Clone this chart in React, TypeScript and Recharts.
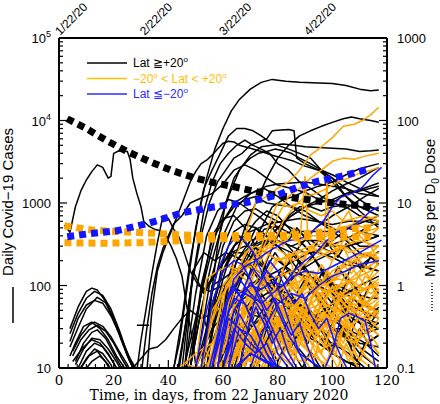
import { LineChart, Line, XAxis, YAxis, Legend } from 'recharts';

// x = days from 22 Jan 2020, y = daily cases; flat pairs [day, cases, day, cases, ...]
const chinaCases = [2, 540, 4, 440, 6, 900, 8, 1400, 10, 1900, 12, 2400, 14, 2900, 16, 2700, 18, 2000, 19, 2100, 20, 4000, 22, 4300, 25, 4200, 26, 3400, 27, 2000, 28.5, 1300, 30, 900, 31, 600, 33, 520, 35, 480, 37, 460, 39, 400, 41, 300, 43, 210, 45, 130, 47, 50, 49, 20, 50, 11, 51, 7];
const koreaCases = [28, 7, 30, 22, 32, 55, 34, 140, 36, 330, 38, 700, 40, 650, 42, 480, 44, 380, 46, 240, 48, 150, 51, 100, 55, 85, 60, 100, 65, 90, 70, 75, 75, 45, 80, 32, 85, 22, 90, 14, 95, 10, 100, 8];
const iranCases = [30, 8, 32, 28, 34, 80, 36, 170, 38, 280, 40, 400, 42, 560, 45, 700, 48, 1000, 52, 1150, 56, 1300, 60, 1700, 64, 2500, 68, 2900, 72, 2500, 76, 2000, 80, 1650, 85, 1500, 90, 1350, 95, 1100, 100, 1000, 105, 1300, 110, 1450, 117, 1750];
const japanCases = [27, 10, 30, 13, 33, 17, 36, 18, 39, 22, 42, 30, 45, 40, 48, 50, 52, 40, 56, 45, 60, 60, 65, 120, 70, 250, 75, 480, 80, 520, 85, 420, 90, 300, 95, 180, 100, 100, 105, 60, 110, 40, 117, 35];
const italyCases = [32, 8, 34, 50, 36, 150, 38, 250, 41, 450, 44, 800, 46, 1200, 48, 1800, 50, 2400, 52, 3000, 54, 3300, 56, 3800, 58, 4500, 60, 5300, 62, 5600, 64, 5500, 66, 5000, 70, 4600, 74, 4200, 78, 3800, 82, 3500, 86, 3200, 90, 2800, 95, 2500, 100, 2000, 105, 1500, 110, 1100, 114, 900, 117, 800];
const usaCases = [42, 10, 45, 40, 48, 200, 51, 700, 54, 2000, 57, 4500, 60, 8000, 63, 13000, 66, 18000, 70, 24000, 74, 29000, 78, 31500, 83, 30000, 88, 29000, 95, 28500, 100, 28000, 105, 26500, 110, 24000, 114, 23000, 117, 23500];
const spainCases = [40, 5, 44, 20, 47, 100, 50, 500, 53, 1500, 56, 2500, 59, 4000, 62, 6500, 65, 8000, 68, 8000, 71, 7500, 74, 6500, 77, 5500, 80, 5000, 84, 4500, 88, 4000, 92, 3500, 96, 2500, 100, 2000, 105, 1200, 110, 800, 117, 500];
const germanyCases = [42, 5, 46, 30, 50, 200, 53, 800, 56, 1800, 59, 3000, 62, 4000, 65, 5000, 68, 5800, 71, 5000, 74, 4500, 77, 4000, 80, 3000, 84, 2500, 88, 1800, 92, 1500, 96, 1200, 100, 1000, 105, 900, 110, 700, 117, 600];
const franceCases = [44, 10, 48, 80, 52, 400, 55, 1000, 58, 1800, 61, 2500, 64, 3500, 67, 4000, 70, 5000, 73, 5500, 76, 6000, 78, 7500, 80, 7600, 84, 7800, 86, 7500, 87, 3500, 90, 3000, 95, 2500, 100, 1800, 105, 1200, 110, 900, 117, 700];
const ukCases = [45, 8, 50, 40, 54, 150, 58, 500, 62, 1200, 66, 2500, 70, 3800, 74, 4800, 78, 5000, 82, 5200, 86, 5000, 90, 4800, 95, 4700, 100, 4600, 105, 4500, 110, 4200, 114, 4300, 117, 4400];
const russiaCases = [50, 5, 55, 20, 60, 80, 64, 200, 68, 500, 72, 1000, 76, 2000, 80, 3500, 84, 5000, 88, 6500, 92, 7500, 96, 8500, 100, 9500, 104, 10500, 107, 11000, 110, 10500, 114, 10000, 117, 9500];
const turkeyCases = [52, 5, 55, 50, 58, 300, 61, 1000, 64, 2000, 67, 2800, 70, 3500, 73, 4000, 76, 4200, 79, 4500, 82, 4300, 85, 4000, 88, 3500, 92, 3000, 96, 2500, 100, 2200, 105, 1800, 110, 1500, 117, 1200];
const canadaCases = [48, 10, 52, 50, 56, 200, 60, 600, 64, 1000, 68, 1200, 72, 1400, 76, 1600, 80, 1700, 85, 1750, 90, 1800, 95, 1700, 100, 1600, 105, 1500, 110, 1300, 117, 1200];
const cruiseCases = [28.5, 33, 33, 33];

// the small early humps, Lat >= +20
const earlyArcs = [
  [4, 30, 7, 55, 10, 85, 12, 93, 14, 88, 17, 65, 20, 40, 23, 22, 26, 13, 28, 10],
  [4, 26, 7, 46, 10, 70, 13, 85, 16, 76, 19, 52, 22, 29, 25, 15, 27.5, 10],
  [4, 21, 7, 40, 10, 58, 13, 66, 16, 61, 19, 43, 22, 26, 25, 14, 27, 10],
  [4, 18, 7, 31, 10, 52, 14, 72, 17, 62, 20, 39, 23, 21, 26, 12, 28, 9],
  [5, 16, 8, 25, 11, 33, 13, 36, 16, 32, 19, 24, 22, 16, 25, 11, 27, 8],
  [5, 14, 8, 22, 11, 29, 14, 33, 17, 28, 20, 20, 23, 13, 25, 10],
  [6, 12, 9, 20, 12, 27, 14, 29, 17, 23, 20, 15, 23, 10],
  [6, 11, 9, 17, 12, 23, 15, 22, 18, 17, 21, 12, 23, 9],
  [7, 10, 10, 16, 13, 20, 16, 18, 19, 13, 21, 10],
  [7, 9, 10, 13, 13, 17, 16, 15, 19, 11, 20, 9],
  [8, 10, 11, 14, 14, 16, 17, 12, 19, 9],
  [9, 9, 12, 12, 15, 14, 18, 11, 20, 8],
  [5, 12, 9, 18, 12, 22, 15, 20, 18, 15, 21, 10, 22, 9],
  [4, 14, 6, 20, 9, 32, 12, 36, 15, 30, 18, 22, 21, 14, 24, 10],
];

// other countries, Lat >= +20
const northOthers = [
  [50, 10, 55, 100, 60, 400, 65, 900, 70, 1300, 75, 1500, 80, 1200, 85, 900, 90, 700, 95, 600, 100, 500, 105, 400, 110, 300, 117, 300],
  [48, 10, 52, 100, 56, 350, 60, 600, 64, 900, 68, 1100, 72, 1200, 76, 1000, 80, 950, 85, 900, 90, 800, 95, 600, 100, 450, 105, 350, 110, 250, 117, 200],
  [46, 10, 50, 80, 54, 400, 58, 800, 62, 1100, 66, 1000, 70, 800, 74, 650, 78, 500, 82, 350, 86, 250, 90, 150, 95, 100, 100, 60, 105, 45, 110, 35, 117, 30],
  [52, 10, 56, 80, 60, 300, 64, 600, 68, 800, 72, 850, 76, 700, 80, 600, 85, 500, 90, 400, 95, 300, 100, 250, 105, 200, 110, 180, 117, 150],
  [47, 10, 52, 80, 58, 150, 64, 300, 70, 450, 76, 550, 82, 600, 88, 650, 94, 600, 100, 550, 106, 600, 112, 600, 117, 550],
  [52, 10, 56, 50, 60, 150, 64, 300, 68, 400, 72, 600, 76, 800, 80, 700, 84, 500, 88, 350, 92, 250, 96, 150, 100, 90, 105, 60, 110, 50, 117, 40],
  [48, 10, 52, 80, 56, 400, 60, 650, 64, 700, 68, 500, 72, 300, 76, 150, 80, 80, 85, 60, 90, 50, 95, 40, 100, 30, 105, 25, 110, 20, 117, 18],
  [50, 10, 55, 30, 60, 200, 64, 450, 68, 550, 72, 500, 76, 400, 80, 300, 85, 200, 90, 120, 95, 80, 100, 50, 105, 25, 110, 15, 117, 10],
  [52, 10, 56, 100, 60, 120, 64, 150, 68, 180, 72, 250, 76, 350, 80, 500, 85, 700, 90, 900, 95, 1100, 100, 1400, 105, 1700, 110, 2000, 117, 2700],
  [54, 10, 58, 60, 62, 120, 66, 150, 70, 300, 74, 500, 78, 900, 82, 1100, 86, 1200, 90, 1400, 95, 1600, 100, 1800, 105, 2200, 110, 2600, 117, 3000],
  [60, 5, 66, 20, 72, 80, 76, 200, 80, 400, 84, 700, 88, 900, 92, 900, 96, 800, 100, 900, 105, 950, 110, 900, 117, 850],
  [60, 10, 65, 50, 70, 150, 75, 300, 80, 400, 85, 450, 90, 450, 95, 450, 100, 450, 105, 500, 110, 450, 117, 400],
  [55, 10, 60, 60, 65, 200, 70, 350, 75, 400, 80, 350, 85, 300, 90, 350, 95, 350, 100, 300, 105, 300, 110, 330, 117, 400],
  [56, 10, 60, 50, 65, 200, 70, 300, 75, 350, 80, 350, 85, 300, 90, 250, 95, 250, 100, 220, 105, 180, 110, 170, 117, 150],
  [46, 10, 49, 150, 53, 80, 58, 150, 63, 250, 68, 300, 72, 280, 76, 250, 80, 200, 85, 150, 90, 130, 95, 120, 100, 100, 105, 80, 110, 60, 117, 50],
  [45, 10, 49, 150, 53, 250, 57, 200, 61, 250, 65, 220, 69, 180, 73, 120, 77, 80, 82, 60, 88, 40, 94, 25, 100, 20, 106, 15, 112, 10, 117, 8],
  [52, 10, 56, 60, 60, 150, 64, 250, 68, 250, 72, 200, 76, 150, 80, 100, 85, 70, 90, 50, 95, 40, 100, 30, 105, 30, 110, 25, 117, 30],
  [48, 10, 52, 50, 56, 20, 60, 50, 65, 100, 70, 200, 75, 300, 80, 500, 85, 700, 90, 900, 95, 1000, 100, 1100, 105, 1300, 110, 1400, 117, 1600],
  [50, 10, 56, 30, 62, 50, 68, 80, 74, 120, 80, 150, 86, 200, 92, 250, 98, 300, 104, 350, 110, 450, 117, 600],
  [56, 10, 62, 50, 68, 150, 72, 300, 76, 350, 80, 300, 85, 250, 90, 150, 95, 100, 100, 80, 105, 50, 110, 40, 117, 30],
  [58, 10, 64, 30, 70, 60, 76, 80, 82, 100, 88, 150, 94, 200, 100, 250, 106, 300, 112, 350, 117, 400],
  [58, 8, 64, 15, 70, 30, 76, 60, 82, 90, 88, 150, 94, 250, 100, 350, 106, 500, 112, 600, 117, 700],
  [60, 10, 66, 40, 72, 80, 78, 120, 84, 150, 90, 130, 96, 110, 102, 100, 108, 80, 114, 70, 117, 70],
  [70, 8, 76, 30, 82, 150, 88, 300, 94, 500, 100, 700, 106, 900, 112, 1200, 117, 1500],
  [50, 10, 55, 40, 60, 100, 65, 150, 70, 180, 75, 130, 80, 90, 85, 60, 90, 40, 95, 25, 100, 15, 105, 12, 110, 10, 117, 8],
  [55, 10, 60, 30, 65, 60, 70, 80, 75, 60, 80, 40, 85, 30, 90, 25, 95, 20, 100, 15, 105, 12, 110, 10],
  [60, 10, 65, 20, 70, 45, 75, 40, 80, 30, 85, 35, 90, 30, 95, 20, 100, 15, 105, 12, 110, 11],
  [62, 10, 67, 25, 72, 35, 77, 50, 82, 45, 87, 40, 92, 30, 97, 40, 102, 35, 107, 25, 112, 20, 117, 25],
  [65, 10, 70, 20, 75, 30, 80, 25, 85, 20, 90, 30, 95, 45, 100, 60, 105, 80, 110, 100, 117, 130],
  [58, 10, 63, 40, 68, 90, 73, 120, 78, 100, 83, 80, 88, 60, 93, 45, 98, 35, 103, 25, 108, 20, 113, 15, 117, 12],
  [56, 10, 59, 25, 62, 45, 65, 30, 68, 60, 71, 45, 74, 80, 77, 55, 80, 40, 83, 65, 86, 45, 89, 30, 92, 50, 95, 35, 98, 25, 101, 40, 104, 28, 107, 18, 110, 30, 113, 20, 117, 25],
  [60, 10, 63, 18, 66, 35, 69, 25, 72, 50, 75, 35, 78, 70, 81, 50, 84, 90, 87, 60, 90, 110, 93, 80, 96, 140, 99, 100, 102, 170, 105, 120, 108, 200, 111, 150, 114, 220, 117, 180],
  [64, 10, 67, 20, 70, 14, 73, 28, 76, 20, 79, 35, 82, 25, 85, 45, 88, 30, 91, 20, 94, 35, 97, 25, 100, 15, 103, 28, 106, 20, 109, 12, 112, 20, 117, 14],
  [58, 10, 61, 40, 64, 90, 67, 150, 70, 120, 73, 200, 76, 160, 79, 250, 82, 180, 85, 130, 88, 200, 91, 150, 94, 100, 97, 160, 100, 110, 103, 80, 106, 120, 109, 90, 112, 60, 117, 80],
  [68, 10, 71, 25, 74, 40, 77, 30, 80, 55, 83, 40, 86, 70, 89, 50, 92, 90, 95, 65, 98, 45, 101, 75, 104, 55, 107, 35, 110, 60, 113, 40, 117, 55],
  [62, 10, 65, 14, 68, 20, 71, 16, 74, 25, 77, 18, 80, 12, 83, 20, 86, 15, 89, 10, 92, 16, 95, 11, 98, 8],
  [54, 10, 57, 50, 60, 120, 63, 250, 66, 400, 69, 300, 72, 500, 75, 380, 78, 600, 81, 450, 84, 350, 87, 500, 90, 380, 93, 280, 96, 400, 99, 300, 102, 220, 105, 320, 108, 240, 111, 180, 117, 260],
  [72, 10, 75, 18, 78, 30, 81, 22, 84, 40, 87, 28, 90, 50, 93, 35, 96, 60, 99, 42, 102, 75, 105, 50, 108, 90, 111, 65, 114, 110, 117, 80],
  [66, 10, 69, 40, 72, 80, 75, 120, 78, 90, 81, 150, 84, 110, 87, 80, 90, 120, 93, 90, 96, 60, 99, 90, 102, 65, 105, 45, 108, 70, 111, 50, 114, 35, 117, 50],
  [76, 10, 79, 15, 82, 25, 85, 18, 88, 30, 91, 20, 94, 40, 97, 28, 100, 18, 103, 30, 106, 22, 109, 40, 112, 28, 117, 35],
];

// -20 < Lat < +20
const tropicsCases = [
  [56, 10, 60, 30, 64, 200, 68, 400, 72, 1000, 76, 1200, 80, 1500, 84, 1800, 88, 2500, 92, 3800, 96, 4800, 100, 6200, 104, 8500, 108, 9000, 111, 10000, 114, 11700, 117, 14500],
  [60, 10, 65, 30, 70, 100, 75, 300, 80, 700, 84, 1200, 88, 1500, 92, 2000, 96, 2500, 100, 3200, 104, 3500, 108, 3400, 112, 3700, 117, 4000],
  [62, 10, 66, 40, 70, 80, 74, 150, 78, 300, 82, 600, 86, 900, 90, 1200, 94, 1300, 98, 1500, 102, 1800, 106, 2000, 110, 2300, 114, 2500, 117, 2700],
  [55, 10, 60, 80, 65, 150, 70, 300, 74, 200, 78, 400, 82, 300, 86, 500, 88, 300, 90, 2100, 91, 400, 94, 500, 97, 300, 98, 1900, 99, 300, 102, 500, 106, 800, 110, 400, 114, 300, 117, 200],
  [56, 10, 62, 40, 68, 80, 74, 100, 80, 200, 86, 250, 92, 300, 98, 400, 104, 500, 110, 600, 117, 700],
  [40, 5, 44, 10, 50, 15, 56, 20, 62, 50, 66, 80, 70, 120, 74, 300, 78, 700, 80, 1000, 84, 900, 88, 1000, 92, 800, 96, 700, 100, 800, 104, 600, 108, 650, 112, 700, 117, 600],
  [55, 10, 60, 50, 64, 100, 68, 250, 72, 300, 76, 250, 80, 200, 84, 220, 88, 250, 92, 260, 96, 280, 100, 250, 104, 300, 108, 250, 112, 220, 117, 250],
  [52, 10, 56, 50, 60, 80, 64, 120, 68, 150, 72, 250, 76, 300, 80, 330, 84, 350, 88, 350, 92, 400, 96, 400, 100, 450, 104, 500, 108, 550, 112, 500, 117, 600],
  [50, 10, 54, 120, 58, 150, 62, 170, 66, 150, 70, 170, 74, 120, 78, 80, 82, 50, 86, 40, 90, 50, 94, 30, 98, 50, 102, 40, 106, 30, 110, 40, 117, 50],
  [52, 10, 56, 40, 60, 100, 64, 150, 68, 120, 72, 80, 76, 50, 80, 30, 84, 20, 88, 15, 92, 10, 96, 8],
  [58, 10, 62, 60, 66, 150, 70, 200, 74, 250, 78, 300, 82, 250, 86, 200, 90, 250, 94, 300, 98, 350, 102, 300, 106, 250, 110, 280, 117, 300],
  [57, 10, 61, 100, 65, 150, 69, 200, 73, 150, 77, 120, 81, 130, 85, 150, 89, 120, 93, 150, 97, 100, 101, 120, 105, 150, 109, 200, 113, 250, 117, 200],
  [60, 10, 66, 30, 72, 50, 78, 60, 84, 50, 90, 40, 96, 30, 102, 20, 108, 15, 114, 10],
  [58, 10, 64, 20, 70, 20, 76, 15, 82, 20, 88, 12, 94, 15, 100, 20, 106, 40, 112, 60, 117, 80],
  [62, 10, 68, 20, 74, 30, 80, 80, 86, 150, 92, 200, 98, 250, 104, 300, 110, 350, 117, 300],
  [62, 10, 68, 30, 74, 60, 80, 100, 84, 250, 88, 80, 92, 150, 96, 100, 100, 200, 104, 300, 108, 150, 112, 100, 117, 200],
  [60, 10, 66, 30, 72, 80, 78, 50, 84, 40, 90, 100, 96, 80, 102, 150, 108, 200, 114, 250, 117, 200],
  [56, 10, 62, 30, 68, 25, 74, 20, 80, 15, 86, 10, 92, 8],
  [62, 10, 68, 25, 74, 30, 80, 40, 86, 50, 92, 60, 98, 80, 104, 100, 110, 150, 117, 200],
  [66, 10, 72, 15, 78, 20, 84, 30, 90, 50, 96, 80, 102, 100, 108, 120, 114, 150, 117, 180],
  [70, 10, 76, 15, 82, 20, 88, 30, 94, 50, 100, 60, 106, 80, 112, 90, 117, 100],
  [58, 10, 64, 15, 70, 12, 76, 10, 82, 15, 88, 30, 94, 50, 100, 40, 106, 30, 112, 50, 117, 40],
  [66, 10, 72, 15, 78, 15, 84, 20, 90, 25, 96, 30, 102, 40, 108, 50, 114, 60, 117, 70],
  [60, 10, 66, 50, 72, 60, 78, 50, 84, 60, 90, 50, 96, 60, 102, 50, 108, 60, 114, 40, 117, 50],
  [60, 10, 66, 20, 72, 15, 78, 20, 84, 40, 90, 80, 96, 100, 102, 120, 108, 110, 114, 80, 117, 90],
  [66, 10, 72, 30, 78, 80, 84, 100, 90, 120, 96, 90, 102, 80, 108, 70, 114, 50, 117, 60],
  [66, 10, 72, 15, 78, 20, 84, 25, 90, 30, 96, 40, 102, 50, 108, 80, 114, 100, 117, 90],
  [66, 10, 72, 15, 78, 20, 84, 40, 90, 60, 96, 100, 102, 150, 108, 200, 114, 250, 117, 300],
  [70, 10, 76, 20, 82, 40, 88, 60, 94, 90, 100, 150, 106, 200, 112, 250, 117, 200],
  [60, 10, 66, 40, 72, 70, 78, 60, 84, 50, 90, 40, 96, 30, 102, 50, 108, 30, 114, 20, 117, 15],
  [45, 5, 50, 10, 56, 12, 62, 10, 68, 8],
  [74, 10, 80, 30, 86, 60, 92, 40, 98, 100, 104, 60, 110, 80, 117, 120],
  [72, 10, 78, 20, 84, 25, 90, 35, 96, 30, 102, 25, 108, 20, 114, 30, 117, 25],
  [60, 20, 64, 40, 68, 60, 72, 80, 76, 90, 80, 70, 84, 60, 88, 80, 92, 100, 96, 90, 100, 70, 104, 80, 108, 100, 112, 90, 117, 110],
  [46, 11, 52, 10, 56, 20, 60, 30, 64, 25, 68, 20, 72, 30, 76, 40, 80, 35, 84, 25, 88, 20, 92, 15, 96, 12, 100, 10],
  [76, 10, 80, 40, 84, 90, 88, 150, 92, 300, 96, 250, 100, 200, 104, 350, 108, 400, 112, 450, 117, 500],
  [50, 10, 53, 18, 56, 12, 59, 25, 62, 40, 65, 30, 68, 55, 71, 45, 74, 70, 77, 50, 80, 90, 83, 60, 86, 110, 89, 80, 92, 130, 95, 90, 98, 150, 101, 120, 104, 180, 107, 140, 110, 200, 113, 160, 117, 220],
  [54, 10, 57, 20, 60, 15, 63, 35, 66, 25, 69, 40, 72, 30, 75, 20, 78, 35, 81, 25, 84, 15, 87, 30, 90, 20, 93, 12, 96, 25, 99, 15, 102, 10, 105, 20, 108, 12, 111, 8],
  [58, 10, 61, 25, 64, 60, 67, 40, 70, 90, 73, 70, 76, 120, 79, 90, 82, 150, 85, 100, 88, 70, 91, 120, 94, 80, 97, 60, 100, 100, 103, 70, 106, 50, 109, 80, 112, 60, 117, 90],
  [62, 10, 65, 15, 68, 30, 71, 20, 74, 45, 77, 35, 80, 60, 83, 40, 86, 30, 89, 55, 92, 35, 95, 25, 98, 45, 101, 30, 104, 20, 107, 35, 110, 25, 113, 40, 117, 30],
  [64, 8, 67, 20, 70, 12, 73, 25, 76, 40, 79, 30, 82, 20, 85, 45, 88, 70, 91, 50, 94, 90, 97, 60, 100, 40, 103, 70, 106, 110, 109, 80, 112, 130, 117, 100],
  [66, 10, 69, 14, 72, 25, 75, 18, 78, 12, 81, 22, 84, 35, 87, 25, 90, 18, 93, 30, 96, 45, 99, 30, 102, 22, 105, 35, 108, 25, 111, 15, 114, 25, 117, 18],
  [68, 10, 71, 30, 74, 20, 77, 50, 80, 35, 83, 80, 86, 55, 89, 40, 92, 65, 95, 45, 98, 30, 101, 50, 104, 35, 107, 60, 110, 40, 113, 25, 117, 40],
  [57, 12, 60, 20, 63, 45, 66, 70, 69, 50, 72, 90, 75, 140, 78, 100, 81, 70, 84, 120, 87, 90, 90, 150, 93, 110, 96, 180, 99, 130, 102, 90, 105, 140, 108, 100, 111, 160, 114, 120, 117, 150],
  [72, 10, 75, 15, 78, 25, 81, 18, 84, 12, 87, 20, 90, 35, 93, 25, 96, 15, 99, 28, 102, 45, 105, 30, 108, 20, 111, 35, 114, 55, 117, 40],
  [61, 10, 64, 35, 67, 20, 70, 15, 73, 30, 76, 60, 79, 45, 82, 30, 85, 20, 88, 40, 91, 25, 94, 15, 97, 10, 100, 18, 103, 12, 106, 8],
  [75, 10, 78, 20, 81, 40, 84, 25, 87, 60, 90, 40, 93, 80, 96, 55, 99, 35, 102, 65, 105, 45, 108, 90, 111, 60, 114, 100, 117, 70],
  [80, 10, 83, 18, 86, 12, 89, 25, 92, 15, 95, 35, 98, 22, 101, 14, 104, 30, 107, 20, 110, 12, 113, 22, 117, 15],
  [52, 10, 55, 30, 58, 55, 61, 35, 64, 80, 67, 60, 70, 40, 73, 65, 76, 45, 79, 30, 82, 50, 85, 35, 88, 22, 91, 40, 94, 28, 97, 18, 100, 30, 103, 20, 106, 12, 109, 20, 112, 14, 117, 10],
  [59, 10, 62, 15, 65, 25, 68, 45, 71, 70, 74, 110, 77, 160, 80, 220, 83, 180, 86, 260, 89, 200, 92, 300, 95, 240, 98, 350, 101, 280, 104, 400, 107, 320, 110, 450, 113, 380, 117, 500],
  [70, 10, 73, 22, 76, 15, 79, 30, 82, 20, 85, 40, 88, 28, 91, 55, 94, 38, 97, 70, 100, 50, 103, 85, 106, 60, 109, 40, 112, 65, 117, 45],
  [63, 10, 66, 20, 69, 35, 72, 25, 75, 15, 78, 25, 81, 40, 84, 60, 87, 40, 90, 25, 93, 40, 96, 60, 99, 85, 102, 55, 105, 35, 108, 55, 111, 75, 114, 50, 117, 65],
  [85, 10, 88, 20, 91, 35, 94, 22, 97, 40, 100, 28, 103, 50, 106, 32, 109, 20, 112, 35, 117, 25],
  [54, 10, 58, 14, 62, 22, 66, 18, 70, 12, 74, 20, 78, 30, 82, 22, 86, 15, 90, 25, 94, 18, 98, 12, 102, 20, 106, 14, 110, 10],
];

// Lat <= -20
const southCases = [
  [56, 10, 60, 40, 64, 120, 68, 170, 72, 200, 76, 250, 80, 300, 84, 350, 88, 370, 91, 400, 94, 500, 97, 620, 100, 900, 103, 1170, 107, 1300, 111, 1550, 115, 2200, 118, 2700],
  [58, 10, 62, 80, 66, 120, 70, 80, 74, 60, 78, 80, 82, 100, 86, 150, 90, 200, 94, 250, 98, 350, 102, 450, 106, 500, 110, 600, 114, 800, 117, 900],
  [58, 10, 62, 50, 66, 80, 70, 100, 74, 90, 78, 110, 82, 100, 86, 130, 90, 150, 95, 140, 100, 170, 105, 205, 110, 250, 114, 300, 118, 355],
  [50, 10, 54, 50, 58, 150, 62, 300, 65, 400, 68, 350, 71, 250, 74, 150, 77, 90, 80, 50, 84, 25, 88, 15, 92, 12, 96, 10, 100, 8],
  [60, 10, 64, 50, 68, 80, 71, 70, 74, 50, 77, 30, 80, 15, 84, 10, 88, 6],
  [52, 10, 56, 60, 60, 150, 64, 200, 67, 180, 70, 120, 74, 60, 78, 30, 82, 15, 86, 10],
  [56, 10, 60, 50, 64, 100, 68, 60, 72, 30, 76, 15, 80, 10, 84, 8],
  [56, 10, 60, 30, 64, 70, 68, 60, 72, 30, 76, 15, 80, 8],
  [60, 10, 64, 30, 68, 20, 72, 15, 76, 20, 80, 10, 84, 8],
  [64, 10, 70, 15, 76, 12, 82, 10, 88, 8],
  [65, 10, 70, 15, 75, 12, 80, 10],
  [62, 10, 66, 30, 70, 25, 74, 15, 78, 10, 82, 5],
  [96, 8, 100, 16, 103, 40, 106, 46, 109, 42, 112, 37, 114, 20, 116, 9],
  [58, 10, 62, 40, 66, 30, 70, 20, 74, 15, 78, 10],
  [70, 10, 75, 30, 80, 60, 85, 80, 90, 70, 95, 100, 100, 130, 105, 150, 110, 180, 117, 200],
  [66, 10, 70, 40, 73, 100, 76, 150, 79, 120, 82, 60, 85, 30, 88, 15, 92, 8],
  [55, 10, 58, 25, 61, 60, 64, 90, 67, 70, 70, 110, 73, 80, 76, 50, 79, 70, 82, 40, 85, 25, 88, 35, 91, 18, 94, 10, 97, 6],
  [60, 10, 63, 20, 66, 45, 69, 30, 72, 55, 75, 35, 78, 20, 81, 30, 84, 15, 87, 10],
  [62, 10, 65, 40, 68, 100, 71, 160, 74, 120, 77, 200, 80, 150, 83, 90, 86, 60, 89, 80, 92, 45, 95, 30, 98, 40, 101, 20, 104, 12, 107, 8],
];

// minutes per D0 dose, right axis
const doseNorth = [3, 105, 10, 80, 17, 58, 25, 42, 33, 32, 41, 25, 49, 20.5, 57, 17.5, 65, 15.5, 73, 13.5, 81, 12.2, 89, 11.2, 97, 10.3, 105, 9.6, 114, 9];
const doseSouth = [3, 3.9, 10, 4.2, 21, 4.6, 33, 5.7, 45, 7.6, 57, 9, 69, 10.2, 80, 12.5, 87, 15.4, 95, 18.5, 103, 21, 114, 26];
const doseTropicsA = [2, 5.3, 12, 4.7, 22, 4.5, 32, 4.35, 45, 4.1, 60, 4, 75, 4, 90, 4.2, 100, 4.6, 108, 4.9, 114, 5];
const doseTropicsB = [2, 3.3, 15, 3.25, 30, 3.3, 45, 3.5, 60, 3.7, 75, 3.85, 90, 3.9, 105, 3.9, 114, 3.9];

// axes
const dayTicks = Array.from({ length: 37 }, (_, i) => (i * 10) / 3);
const dayLabels = [0, 20, 40, 60, 80, 100, 120];
const dateDays = [0, 31, 60, 91];
const dateLabels = ['1/22/20', '2/22/20', '3/22/20', '4/22/20'];
const caseMajors = [10, 100, 1000, 10000, 100000];
const caseLabels = ['10', '100', '1000', '10^4', '10^5'];
const doseMajors = [0.1, 1, 10, 100, 1000];
const doseLabels = ['0.1', '1', '10', '100', '1000'];
const DAY_MAX = 120;

const legendItems = [
  { color: '#000000', parts: ['Lat ≧+20', 'o'] },
  { color: '#ffc000', parts: ['−20', 'o', ' < Lat < +20', 'o'] },
  { color: '#2b2bff', parts: ['Lat ≦−20', 'o'] },
];

const BLACK = '#000000';
const ORANGE = '#ffa500';
const BLUE = '#1414ff';
const SANS = 'Liberation Sans, Arial, sans-serif';
const SERIF = 'DejaVu Serif, serif';
const C45 = Math.SQRT1_2;

const logTicks = (from: number, to: number) => {
  const out: number[] = [];
  for (let d = from; d < to; d *= 10) for (let k = 1; k < 10; k++) out.push(d * k);
  out.push(to);
  return out;
};
const caseTicks = logTicks(10, 100000);
const doseTicks = logTicks(0.1, 1000);

const rows = (flat: number[]) => {
  const out: { x: number; y: number }[] = [];
  for (let i = 0; i < flat.length; i += 2) out.push({ x: flat[i], y: flat[i + 1] });
  return out;
};

const near = (a: number, b: number) => Math.abs(a - b) < 1e-6 * Math.max(1, Math.abs(b));

function BottomTick({ x, y, payload }: any) {
  const v = payload.value;
  const major = dayLabels.some((d) => near(v, d));
  return (
    <g>
      <line x1={x} x2={x} y1={y} y2={y - (major ? 8 : 4)} stroke={BLACK} strokeWidth={1.2} />
      {major && (
        <text x={x} y={y + 17} textAnchor="middle" fontFamily={SERIF} fontSize={13.5} fill={BLACK}>
          {Math.round(v)}
        </text>
      )}
    </g>
  );
}

function TopTick({ x, y, payload }: any) {
  const major = dayLabels.some((d) => near(payload.value, d));
  return <line x1={x} x2={x} y1={y} y2={y + (major ? 8 : 4)} stroke={BLACK} strokeWidth={1.2} />;
}

// date labels along the top edge, placed on the top axis' own span, slanted 45 degrees
function DateLabels({ viewBox }: any) {
  const vb = viewBox || { x: 59, y: 37, width: 328, height: 1 };
  const base = vb.y + vb.height - 2;
  return (
    <g>
      {dateDays.map((d, i) => {
        const x = vb.x + (d / DAY_MAX) * vb.width + 1;
        return (
          <text
            key={d}
            x={0}
            y={0}
            transform={`matrix(${C45} ${-C45} ${C45} ${C45} ${x} ${base})`}
            fontFamily={SANS}
            fontSize={12}
            textLength={40}
            lengthAdjust="spacing"
            fill={BLACK}
          >
            {dateLabels[i]}
          </text>
        );
      })}
    </g>
  );
}

function TickLabel({ label }: { label: string }) {
  const [base, sup] = label.split('^');
  return (
    <>
      {base}
      {sup && (
        <tspan dy={-6} fontSize={9}>
          {sup}
        </tspan>
      )}
    </>
  );
}

function CaseTick({ x, y, payload }: any) {
  const i = caseMajors.findIndex((m) => near(payload.value, m));
  const major = i >= 0;
  return (
    <g>
      <line x1={x} x2={x + (major ? 8 : 4)} y1={y} y2={y} stroke={BLACK} strokeWidth={1.2} />
      {major && (
        <text x={x - 8} y={y + 5} textAnchor="end" fontFamily={SANS} fontSize={13} fill={BLACK}>
          <TickLabel label={caseLabels[i]} />
        </text>
      )}
    </g>
  );
}

function DoseTick({ x, y, payload }: any) {
  const i = doseMajors.findIndex((m) => near(payload.value, m));
  const major = i >= 0;
  return (
    <g>
      <line x1={x} x2={x - (major ? 8 : 4)} y1={y} y2={y} stroke={BLACK} strokeWidth={1.2} />
      {major && (
        <text x={x + 10} y={y + 5} textAnchor="start" fontFamily={SANS} fontSize={13} fill={BLACK}>
          {doseLabels[i]}
        </text>
      )}
    </g>
  );
}

function CasesTitle({ viewBox }: any) {
  const cx = viewBox.x - 45;
  const cy = viewBox.y + viewBox.height / 2 - 1;
  return (
    <g>
      <text x={cx} y={cy} transform={`rotate(-90 ${cx} ${cy})`} textAnchor="middle" fontFamily={SANS} fontSize={15} fill={BLACK}>
        Daily Covid−19 Cases
      </text>
      <line x1={cx} x2={cx} y1={cy + 85} y2={cy + 121} stroke={BLACK} strokeWidth={1.5} />
    </g>
  );
}

function DoseTitle({ viewBox }: any) {
  const cx = viewBox.x + 48;
  const cy = viewBox.y + viewBox.height / 2 + 5;
  return (
    <g>
      <text x={cx} y={cy} transform={`rotate(-90 ${cx} ${cy})`} textAnchor="middle" fontFamily={SANS} fontSize={15} fill={BLACK}>
        Minutes per D
        <tspan dy={4} fontSize={10}>
          0
        </tspan>
        <tspan dy={-4}> Dose</tspan>
      </text>
      <line x1={cx - 3} x2={cx - 3} y1={cy + 75} y2={cy + 105} stroke={BLACK} strokeWidth={1.5} strokeDasharray="1 2" />
    </g>
  );
}

function TimeTitle({ viewBox }: any) {
  return (
    <text x={viewBox.x + viewBox.width / 2 - 4} y={viewBox.y + 32} textAnchor="middle" fontFamily={SERIF} fontSize={14} fill={BLACK}>
      Time, in days, from 22 January 2020
    </text>
  );
}

function LegendBox() {
  return (
    <svg width={180} height={50} style={{ display: 'block' }}>
      {legendItems.map((item, i) => {
        const y = 9 + i * 15.5;
        return (
          <g key={i}>
            <line x1={1} x2={41} y1={y} y2={y} stroke={item.color} strokeWidth={1.5} />
            <text x={47} y={y + 4} fontFamily={SANS} fontSize={12} fill={item.color}>
              {item.parts.map((p, j) =>
                p === 'o' ? (
                  <tspan key={j} dy={-5} fontSize={8}>
                    o
                  </tspan>
                ) : (
                  <tspan key={j} dy={j > 0 ? 5 : 0}>
                    {p}
                  </tspan>
                ),
              )}
            </text>
          </g>
        );
      })}
    </svg>
  );
}

function solid(flat: number[], color: string, key: string) {
  return (
    <Line
      key={key}
      data={rows(flat)}
      dataKey="y"
      xAxisId="x"
      yAxisId="cases"
      stroke={color}
      strokeWidth={1.5}
      strokeLinejoin="round"
      dot={false}
      activeDot={false}
      legendType="none"
      isAnimationActive={false}
    />
  );
}

function dashed(flat: number[], color: string, key: string) {
  return (
    <Line
      key={key}
      data={rows(flat)}
      dataKey="y"
      xAxisId="x"
      yAxisId="dose"
      stroke={color}
      strokeWidth={7}
      strokeDasharray="7 5"
      dot={false}
      activeDot={false}
      legendType="none"
      isAnimationActive={false}
    />
  );
}

const northNamed = [chinaCases, koreaCases, iranCases, japanCases, italyCases, usaCases, spainCases, germanyCases, franceCases, ukCases, russiaCases, turkeyCases, canadaCases, cruiseCases];

export default function App() {
  return (
    <div style={{ position: 'absolute', left: 0, top: 0, background: '#fff' }}>
      <LineChart width={440} height={404} margin={{ top: 37, right: 52, bottom: 35, left: 58 }}>
        <XAxis
          xAxisId="x"
          dataKey="x"
          type="number"
          domain={[0, DAY_MAX]}
          allowDataOverflow
          ticks={dayTicks}
          interval={0}
          height={1}
          tickSize={0}
          tickMargin={0}
          tickLine={false}
          tick={<BottomTick />}
          axisLine={{ stroke: BLACK, strokeWidth: 2 }}
          label={(p: any) => <TimeTitle {...p} />}
        />
        <XAxis
          xAxisId="top"
          orientation="top"
          type="number"
          domain={[0, DAY_MAX]}
          allowDataOverflow
          ticks={dayTicks}
          interval={0}
          height={1}
          tickSize={0}
          tickMargin={0}
          tickLine={false}
          tick={<TopTick />}
          axisLine={{ stroke: BLACK, strokeWidth: 2 }}
          label={(p: any) => <DateLabels {...p} />}
        />
        <YAxis
          yAxisId="cases"
          scale="log"
          type="number"
          domain={[10, 100000]}
          allowDataOverflow
          ticks={caseTicks}
          interval={0}
          width={1}
          tickSize={0}
          tickMargin={0}
          tickLine={false}
          tick={<CaseTick />}
          axisLine={{ stroke: BLACK, strokeWidth: 2 }}
          label={(p: any) => <CasesTitle {...p} />}
        />
        <YAxis
          yAxisId="dose"
          orientation="right"
          scale="log"
          type="number"
          domain={[0.1, 1000]}
          allowDataOverflow
          ticks={doseTicks}
          interval={0}
          width={1}
          tickSize={0}
          tickMargin={0}
          tickLine={false}
          tick={<DoseTick />}
          axisLine={{ stroke: BLACK, strokeWidth: 2 }}
          label={(p: any) => <DoseTitle {...p} />}
        />
        <Legend
          layout="horizontal"
          verticalAlign="middle"
          align="center"
          wrapperStyle={{ left: 86, top: 54, width: 180 }}
          content={() => <LegendBox />}
        />
        {earlyArcs.map((s, i) => solid(s, BLACK, `arc${i}`))}
        {northOthers.map((s, i) => solid(s, BLACK, `north${i}`))}
        {northNamed.map((s, i) => solid(s, BLACK, `named${i}`))}
        {tropicsCases.map((s, i) => solid(s, ORANGE, `trop${i}`))}
        {southCases.map((s, i) => solid(s, BLUE, `south${i}`))}
        {dashed(doseTropicsB, ORANGE, 'doseTB')}
        {dashed(doseTropicsA, ORANGE, 'doseTA')}
        {dashed(doseNorth, BLACK, 'doseN')}
        {dashed(doseSouth, BLUE, 'doseS')}
      </LineChart>
    </div>
  );
}
